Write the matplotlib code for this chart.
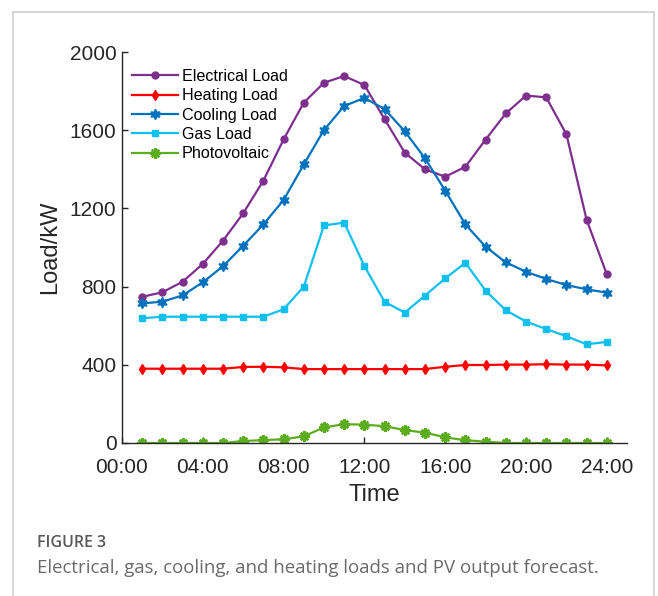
import matplotlib
matplotlib.use("Agg")
import matplotlib.pyplot as plt
from matplotlib.patches import Rectangle

hours = list(range(1, 25))
electrical = [748, 771, 825, 916, 1035, 1175, 1342, 1553, 1741, 1843, 1877, 1831,
              1656, 1485, 1400, 1362, 1413, 1552, 1686, 1777, 1768, 1579, 1142, 863]
heating = [380, 380, 380, 380, 380, 389, 390, 387, 378, 378, 378, 378,
           378, 378, 378, 390, 399, 399, 401, 401, 403, 401, 401, 397]
cooling = [714, 723, 755, 822, 904, 1009, 1118, 1243, 1425, 1601, 1724, 1765,
           1708, 1594, 1456, 1291, 1118, 1004, 924, 876, 839, 808, 786, 769]
gas = [638, 646, 646, 646, 646, 646, 646, 684, 800, 1113, 1127, 905,
       722, 667, 754, 842, 922, 779, 679, 621, 583, 546, 505, 517]
pv = [0, 0, 0, 0, 0, 10, 15, 19, 34, 80, 96, 94,
      86, 66, 53, 29, 14, 7, 0, 0, 0, 0, 0, 0]

xticks = [0, 4, 8, 12, 16, 20, 24]
xticklabels = ["00:00", "04:00", "08:00", "12:00", "16:00", "20:00", "24:00"]
yticks = [0, 400, 800, 1200, 1600, 2000]

plt.rcParams['font.family'] = ['Liberation Sans', 'DejaVu Sans']

fig = plt.figure(figsize=(6.58, 5.96), dpi=100)
fig.patches.append(Rectangle((13 / 658, -0.1), 641 / 658, 1.1 - 12 / 596,
                             transform=fig.transFigure, fill=False,
                             edgecolor='#cfcfcf', linewidth=1.2))

ax = fig.add_axes([122 / 658, 1 - 443 / 596, 505 / 658, 391 / 596])

ax.plot(hours, electrical, color='#7E2F8E', lw=1.6, marker='o', ms=5, label='Electrical Load')
ax.plot(hours, heating, color='#FF0000', lw=1.6, marker='d', ms=5.5, label='Heating Load')
ax.plot(hours, cooling, color='#0072BD', lw=1.6, marker=(6, 1, 0), ms=7.5, label='Cooling Load')
ax.plot(hours, gas, color='#0FBFEE', lw=1.6, marker='s', ms=5, label='Gas Load')
ax.plot(hours, pv, color='#5BAD1E', lw=1.6, marker=(8, 2, 0), ms=7.5, mew=1.8, label='Photovoltaic')

ax.set_xlim(0, 25)
ax.set_ylim(0, 2000)
ax.set_xticks(xticks)
ax.set_xticklabels(xticklabels)
ax.set_yticks(yticks)
for s in ['top', 'right']:
    ax.spines[s].set_visible(False)
for s in ['left', 'bottom']:
    ax.spines[s].set_color('#262626')
    ax.spines[s].set_linewidth(1.0)
ax.tick_params(direction='in', length=4, width=1, colors='#262626', labelsize=15, pad=4)
ax.tick_params(axis='x', pad=11)
ax.set_xlabel('Time', fontsize=17, color='#262626', labelpad=5)
ax.set_ylabel('Load/kW', fontsize=17, color='#262626', labelpad=6)

ax.legend(loc='upper left', bbox_to_anchor=(0.02, 0.957), frameon=False, fontsize=11.6,
          borderpad=0, borderaxespad=0, handlelength=2.85, handletextpad=0.25,
          labelspacing=0.27)

fig.text(37 / 658, 1 - 543 / 596, 'FIGURE 3', fontsize=11.5, color='#595959',
         family=['Open Sans', 'DejaVu Sans'], weight='semibold', va='center')
fig.text(37 / 658, 1 - 568 / 596,
         'Electrical, gas, cooling, and heating loads and PV output forecast.',
         fontsize=13.4, color='#6a6a6a', family=['Open Sans', 'DejaVu Sans'], va='center')

fig.savefig('out.png', dpi=100)
